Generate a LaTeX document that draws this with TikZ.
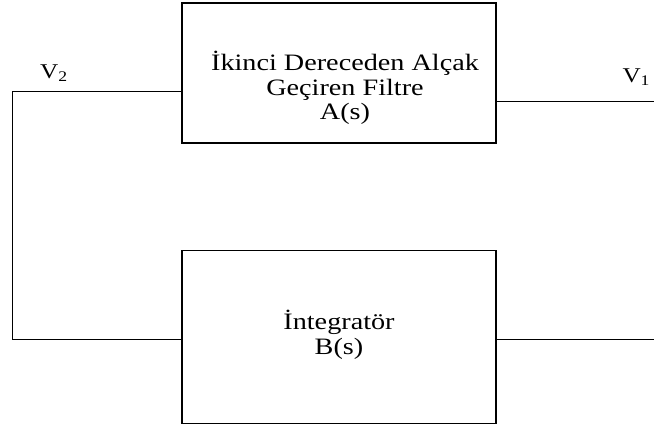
\documentclass[tikz,border=0pt]{standalone}
\usepackage{fontspec}
\setmainfont{Liberation Serif}[FakeStretch=1.2]
\usepackage{tikz}

\tikzset{blok/.style={draw, line width=1.1pt, minimum width=314pt, inner sep=0pt},
         tel/.style={line width=1pt},
         yazi/.style={align=center, font=\fontsize{23.5}{24.5}\selectfont}}

\begin{document}
\begin{tikzpicture}[x=1pt,y=-1pt]
   \useasboundingbox (0,0) rectangle (654,425);

   \node[blok, minimum height=140pt] (filtre) at (339,73) {};
   \node[blok, minimum height=173pt] (integ) at (339,337) {};

   \node[yazi] (filtreyazi) at (345,88) {İkinci Dereceden Alçak\\Geçiren Filtre\\A(s)};
   \node[yazi] (integyazi) at (339,335) {İntegratör\\B(s)};

   \node[font=\fontsize{21}{22}\selectfont] (v2) at (54,73) {V\textsubscript{2}};
   \node[font=\fontsize{21}{22}\selectfont, anchor=west] (v1) at (619,77) {V\textsubscript{1}};

   \coordinate (solust) at (12,92);
   \coordinate (solalt) at (12,339);
   \coordinate (sagust) at (654,102);
   \coordinate (sagalt) at (654,339);

   \draw[tel] (solust) -- (solust -| filtre.west);
   \draw[tel] (solust) -- (solalt) -- (solalt -| integ.west);
   \draw[tel] (filtre.east |- sagust) -- (sagust);
   \draw[tel] (integ.east |- sagalt) -- (sagalt);

\end{tikzpicture}
\end{document}
